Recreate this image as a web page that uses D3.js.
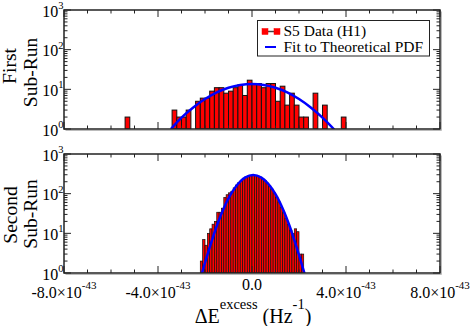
<!DOCTYPE html>
<html><head><meta charset="utf-8">
<script src="https://cdn.jsdelivr.net/npm/d3@7"></script>
<style>body{margin:0;background:#fff}svg{display:block}</style>
</head><body>
<svg id="c" width="471" height="326"></svg>
<script>
// ---- data (x in units of 1e-43 Hz^-1) ----
const xTicks = [-8, -4, 0, 4, 8];
const xTickMantissa = ["-8.0", "-4.0", "0.0", "4.0", "8.0"];
const xTickExponent = "-43";
const yTicks = [1, 10, 100, 1000];
const yTickExponent = ["0", "1", "2", "3"];

// First sub-run histogram: bin left edges (width 0.2) and counts
const binWidth1 = 0.2;
const binStart1 = [-5.4,-3.4,-3.2,-3.0,-2.8,-2.6,-2.4,-2.2,-2.0,-1.8,-1.6,-1.4,-1.2,-1.0,-0.8,-0.6,-0.4,-0.2,0.0,0.2,0.4,0.6,0.8,1.0,1.2,1.4,1.6,1.8,2.0,2.2,2.4,2.6,2.8,3.0,3.8];
const counts1   = [2,3,2,2,3,1,5,6,6,9,11,11,8,9,11,13,7,17,14,14,11,14,14,5,12,4,8,4,2,2,1,8,1,4,2];
// First sub-run fit curve
const fit1X = [-3.45,-3.0,-2.5,-2.0,-1.5,-1.0,-0.5,0,0.5,1.0,1.5,2.0,2.5,3.0,3.5];
const fit1Y = [1.0,1.94,3.5,5.7,8.4,11.0,12.9,13.6,12.9,11.0,8.4,5.7,3.5,1.94,0.97];

// Second sub-run histogram: bin left edges from -2.2 (width 0.1)
const binWidth2 = 0.1;
const binStart2 = d3.range(44).map(i => +(-2.2 + i * 0.1).toFixed(1));
const counts2 = [2,7,5,10,13,17,20,34,34,43,80,94,105,115,140,165,190,215,245,265,280,290,295,290,280,262,240,215,185,158,130,105,82,62,46,33,24,17,12,10,13,11,3,3];
// Second sub-run fit curve
const fit2X = [-2.15,-1.8,-1.5,-1.2,-0.9,-0.6,-0.3,0.05,0.4,0.7,1.0,1.3,1.6,1.9,2.25];
const fit2Y = [0.9,4.4,15.3,43,97,175,253,294,253,175,97,43,15.3,4.4,0.9];

const legendLabels = ["S5 Data (H1)", "Fit to Theoretical PDF"];
const panelTitles = [["First", "Sub-Run"], ["Second", "Sub-Run"]];

// ---- layout ----
const svg = d3.select("#c");
const FONT = "'Liberation Serif','DejaVu Serif',serif";
const L = 64, R = 440;
const panels = [
  {top: 10, bottom: 129, starts: binStart1, counts: counts1, w: binWidth1, fx: fit1X, fy: fit1Y, sw: 1, title: panelTitles[0], tc: [66, 72.5], tb: [16, 36.5]},
  {top: 154, bottom: 273, starts: binStart2, counts: counts2, w: binWidth2, fx: fit2X, fy: fit2Y, sw: 0.7, title: panelTitles[1], tc: [215, 214], tb: [16.5, 36.5]}
];
const x = d3.scaleLinear().domain([-8, 8]).range([L, R]);

panels.forEach((p, pi) => {
  const y = d3.scaleLog().domain([1, 1000]).range([p.bottom, p.top]);
  const g = svg.append("g");
  const cid = "clip" + pi;
  svg.append("clipPath").attr("id", cid).append("rect")
    .attr("x", L).attr("y", p.top).attr("width", R - L).attr("height", p.bottom - p.top);

  const data = p.starts.map((s, i) => ({s, v: p.counts[i]}));
  g.append("g").attr("clip-path", `url(#${cid})`).selectAll("rect").data(data).join("rect")
    .attr("x", d => x(d.s))
    .attr("width", d => x(d.s + p.w) - x(d.s))
    .attr("y", d => y(Math.max(1, d.v)))
    .attr("height", d => p.bottom - y(Math.max(1, d.v)))
    .attr("fill", "#ff0000").attr("stroke", "#111").attr("stroke-width", p.sw);

  const line = d3.line().x(d => x(d[0])).y(d => y(d[1])).curve(d3.curveCatmullRom);
  g.append("path").attr("clip-path", `url(#${cid})`)
    .attr("d", line(p.fx.map((v, i) => [v, p.fy[i]])))
    .attr("fill", "none").attr("stroke", "#0000ff").attr("stroke-width", 2.5);

  // ticks
  const tk = g.append("g").attr("stroke", "#222").attr("stroke-width", 1);
  d3.range(-8, 8.01, 1).forEach(v => {
    const len = (v % 4 === 0) ? 7 : 3.5;
    tk.append("line").attr("x1", x(v)).attr("x2", x(v)).attr("y1", p.bottom).attr("y2", p.bottom - len);
    tk.append("line").attr("x1", x(v)).attr("x2", x(v)).attr("y1", p.top).attr("y2", p.top + len);
  });
  yTicks.forEach((dec, di) => {
    tk.append("line").attr("x1", L).attr("x2", L + 7).attr("y1", y(dec)).attr("y2", y(dec));
    tk.append("line").attr("x1", R).attr("x2", R - 7).attr("y1", y(dec)).attr("y2", y(dec));
    if (di < 3) for (let k = 2; k <= 9; k++) {
      const yy = y(k * dec);
      tk.append("line").attr("x1", L).attr("x2", L + 3.5).attr("y1", yy).attr("y2", yy);
      tk.append("line").attr("x1", R).attr("x2", R - 3.5).attr("y1", yy).attr("y2", yy);
    }
  });

  // frame with light shadow
  g.append("path").attr("d", `M${L+1.5},${p.bottom+1.5}H${R+1.5}V${p.top+1.5}`)
    .attr("fill", "none").attr("stroke", "#bbb").attr("stroke-width", 1);
  g.append("rect").attr("x", L).attr("y", p.top).attr("width", R - L).attr("height", p.bottom - p.top)
    .attr("fill", "none").attr("stroke", "#222").attr("stroke-width", 1.5);

  // y tick labels
  yTicks.forEach((dec, di) => {
    const t = g.append("text").attr("x", 63.5).attr("y", y(dec) + 6.5)
      .attr("text-anchor", "end").attr("font-family", FONT).attr("font-size", 16).attr("fill", "#000");
    t.append("tspan").text("10");
    t.append("tspan").attr("font-size", 10.5).attr("dy", -7.5).text(yTickExponent[di]);
  });

  // panel titles
  p.title.forEach((s, li) => {
    g.append("text").attr("transform", `translate(${p.tb[li]},${p.tc[li]}) rotate(-90)`)
      .attr("text-anchor", "middle").attr("font-family", FONT).attr("font-size", 19.5).text(s);
  });
});

// x tick labels (bottom panel)
xTicks.forEach((v, i) => {
  const t = svg.append("text").attr("x", x(v)).attr("text-anchor", "middle")
    .attr("font-family", FONT).attr("font-size", 16);
  if (v === 0) {
    t.attr("y", 289.5).text(xTickMantissa[i]);
  } else {
    t.attr("y", 297.5);
    t.append("tspan").text(xTickMantissa[i] + "×10");
    t.append("tspan").attr("font-size", 11).attr("dy", -8.5).text(xTickExponent);
  }
});

// x axis title
const xt = svg.append("text").attr("x", 253).attr("y", 323).attr("text-anchor", "middle")
  .attr("font-family", FONT).attr("font-size", 20);
xt.append("tspan").text("ΔE");
xt.append("tspan").attr("font-size", 14.5).attr("dy", -14).text("excess");
xt.append("tspan").attr("dy", 14).text(" (Hz");
xt.append("tspan").attr("font-size", 14.5).attr("dy", -14).text("-1");
xt.append("tspan").attr("dy", 14).text(")");

// legend
const lg = svg.append("g");
lg.append("rect").attr("x", 257.5).attr("y", 20.5).attr("width", 172).attr("height", 35.5)
  .attr("fill", "#fff").attr("stroke", "#222").attr("stroke-width", 1);
lg.append("line").attr("x1", 265).attr("x2", 277).attr("y1", 31.5).attr("y2", 31.5)
  .attr("stroke", "#444").attr("stroke-width", 1.5);
[262, 274].forEach(sx => lg.append("rect").attr("x", sx).attr("y", 28.5).attr("width", 6).attr("height", 6)
  .attr("fill", "#ff0000").attr("stroke", "#ff0000").attr("stroke-width", 0.5));
lg.append("line").attr("x1", 265).attr("x2", 276).attr("y1", 47).attr("y2", 47)
  .attr("stroke", "#0000ff").attr("stroke-width", 2);
legendLabels.forEach((s, i) => lg.append("text").attr("x", 283.5).attr("y", 35.5 + i * 16)
  .attr("font-family", FONT).attr("font-size", 15.5).text(s));
</script>
</body></html>
